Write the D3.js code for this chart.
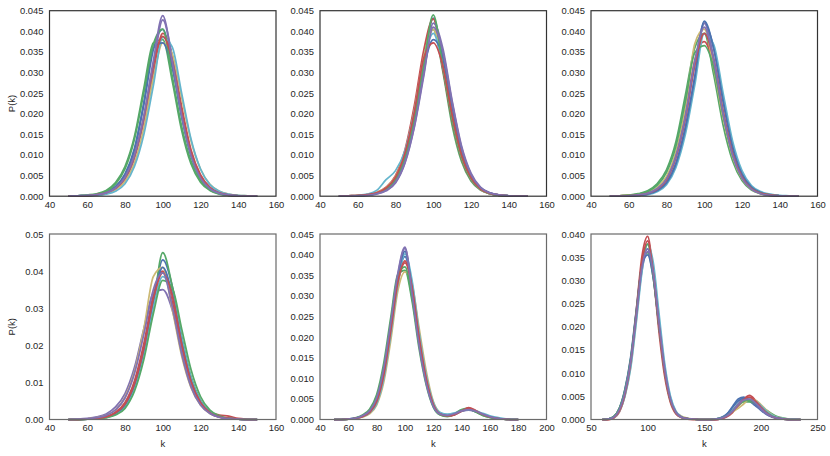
<!DOCTYPE html>
<html>
<head>
<meta charset="utf-8">
<script src="https://cdn.jsdelivr.net/npm/d3@7"></script>
<style>
  body { margin: 0; background: #fff; }
  text { font-family: "Liberation Sans", Arial, sans-serif; }
</style>
</head>
<body>
<svg id="chart"></svg>
<script>
const [W, H] = [830, 456];
const deep = ['#4C72B0', '#55A868', '#C44E52', '#8172B2', '#CCB974', '#64B5CD'];

// k grids (x positions the curves were read at)
const kTop = [50,55,60,65,70,75,80,85,90,95,100,105,110,115,120,125,130,135,140,145,150];
const kMid = [50,55,60,65,70,75,80,85,90,95,100,105,110,115,120,125,130,135,140,145,150,155,160,165,170,175,180];
const kWide = [60,65,70,75,80,85,90,95,100,105,110,115,120,125,130,135,140,145,150,155,
               160,165,170,175,180,185,190,195,200,205,210,215,220,225,230,235];

// P(k), in units of 1e-4
const curves1 = [
  [0,1,2,4,9,22,50,112,222,355,405,318,192,98,44,18,7,3,1,0,0],
  [0,1,3,6,14,33,72,145,262,372,380,280,160,78,34,14,5,2,1,0,0],
  [0,0,1,3,7,17,40,92,182,300,395,342,218,112,52,22,9,3,1,0,0],
  [0,0,1,3,7,18,42,96,188,315,428,340,205,104,46,19,7,2,1,0,0],
  [0,1,2,3,7,16,36,80,165,285,372,345,240,134,66,29,12,5,2,1,0],
  [0,0,1,2,5,12,30,72,150,268,385,362,250,138,66,28,12,5,2,1,0],
  [0,1,2,4,10,24,54,116,228,360,372,312,196,100,45,18,7,3,1,0,0],
  [0,1,2,5,12,30,66,138,252,368,405,292,170,85,38,15,6,2,1,0,0],
  [0,0,1,4,8,19,44,98,192,318,388,330,208,106,48,20,8,3,1,0,0],
  [0,1,2,4,8,20,46,100,196,328,438,328,196,98,44,18,7,3,1,0,0]
];
const curves2 = [
  [0,0,1,3,7,17,40,95,190,320,432,335,200,100,44,17,6,2,1,0,0],
  [0,0,1,3,8,19,45,104,205,340,405,305,172,84,37,15,6,2,1,0,0],
  [0,1,2,4,9,22,50,112,220,355,430,310,185,92,41,16,6,2,1,0,0],
  [0,0,1,2,5,13,32,80,168,292,420,360,232,122,56,22,8,3,1,0,0],
  [0,1,2,4,9,21,48,106,208,338,405,318,192,96,43,17,6,2,1,0,0],
  [0,1,2,5,14,40,62,110,205,330,395,318,195,98,44,18,7,3,1,0,0],
  [0,0,1,3,7,16,38,90,184,312,380,340,218,110,49,20,8,3,1,0,0],
  [0,0,1,3,7,17,40,94,188,318,440,318,190,96,43,17,6,2,1,0,0],
  [0,1,2,4,8,20,46,104,204,335,372,318,198,100,45,18,7,3,1,0,0],
  [0,0,1,2,6,14,34,82,170,298,410,352,228,118,53,21,8,3,1,0,0]
];
const curves3 = [
  [0,0,1,2,5,13,33,80,168,290,420,360,230,118,52,21,9,4,1,0,0],
  [0,1,3,6,13,30,64,132,245,360,395,295,172,86,38,15,6,2,1,0,0],
  [0,1,2,4,8,19,44,100,198,330,375,318,200,102,46,19,7,3,1,0,0],
  [0,0,1,3,7,17,40,94,188,320,420,335,202,100,44,17,6,2,1,0,0],
  [0,1,2,4,9,21,48,108,215,370,405,310,190,96,43,17,6,2,1,0,0],
  [0,0,1,2,4,11,28,70,150,270,395,368,250,134,62,26,11,5,2,1,0],
  [0,0,1,2,5,13,32,78,164,288,425,358,232,120,54,22,9,3,1,0,0],
  [0,1,2,5,11,26,58,122,230,348,365,312,196,100,45,18,7,3,1,0,0],
  [0,0,1,3,7,17,40,95,190,318,395,332,206,104,46,18,7,3,1,0,0],
  [0,0,1,3,7,18,42,98,195,328,410,330,200,100,44,17,6,2,1,0,0]
];
const curves4 = [
  [0,0,1,3,7,17,40,92,185,315,430,360,215,105,46,18,7,2,1,0,0],
  [0,0,1,2,5,14,34,82,172,305,450,360,225,115,52,21,8,3,1,0,0],
  [0,1,2,4,8,20,46,104,205,335,400,318,195,98,44,20,12,9,3,1,0],
  [0,1,3,7,15,34,70,140,245,340,350,296,185,94,42,17,6,2,1,0,0],
  [0,1,2,5,11,26,60,128,245,385,410,298,172,86,39,16,6,2,1,0,0],
  [0,0,1,3,6,15,36,86,178,305,385,340,220,112,50,20,8,3,1,0,0],
  [0,0,1,3,7,17,40,94,190,322,410,338,208,104,46,18,7,3,1,0,0],
  [0,0,1,2,5,12,30,76,162,285,375,355,245,134,62,25,10,3,1,0,0],
  [0,0,1,3,7,18,42,96,192,325,395,335,205,103,46,18,7,3,1,0,0],
  [0,1,2,5,11,26,58,124,230,350,395,305,178,88,39,16,6,2,1,0,0]
];
const curves5 = [
  [0,0,1,3,8,18,44,110,220,340,395,322,198,96,35,13,9,12,20,24,19,12,6,3,1,0,0],
  [0,0,1,4,11,25,60,136,248,352,362,288,172,84,30,11,8,14,24,27,19,10,5,2,1,0,0],
  [0,0,1,3,7,17,42,105,212,330,380,325,205,102,38,13,8,11,20,29,22,12,6,3,1,0,0],
  [0,0,1,3,8,18,45,112,225,350,415,315,190,94,34,13,10,14,20,23,19,13,7,3,1,0,0],
  [0,0,1,2,6,14,35,90,192,312,358,328,222,118,44,16,10,13,21,25,20,12,6,3,1,0,0],
  [0,0,1,3,7,16,38,98,205,328,402,338,212,108,42,17,13,16,22,24,21,15,9,5,2,1,0],
  [0,0,1,3,8,19,46,114,226,345,408,318,192,95,34,13,9,13,21,25,19,11,6,3,1,0,0],
  [0,0,1,3,9,21,52,122,235,348,370,296,185,92,33,11,7,13,23,26,18,10,5,2,1,0,0],
  [0,0,1,3,7,17,43,107,215,333,385,322,200,100,37,13,9,12,21,27,21,12,6,3,1,0,0],
  [0,0,1,3,9,21,52,124,236,355,418,306,180,88,32,13,10,14,21,24,20,13,7,3,1,0,0]
];
const curves6 = [
  [0,1,5,22,60,126,228,335,368,312,205,108,44,15,5,2,1,0,0,0, 1,4,12,28,44,48,40,30,20,11,5,2,1,0,0,0],
  [0,1,6,24,64,130,232,332,360,305,202,106,43,14,5,2,1,0,0,0, 1,3,8,18,30,38,38,34,28,20,12,6,3,1,0,0],
  [0,0,3,16,52,120,235,352,395,312,190,94,38,12,4,1,0,0,0,0, 0,2,6,15,30,44,52,42,26,13,6,3,1,0,0,0],
  [0,1,5,21,58,122,220,322,362,322,215,114,48,16,5,2,1,0,0,0, 0,2,7,18,34,44,42,33,22,12,6,3,1,0,0,0],
  [0,1,4,18,52,114,215,330,378,325,212,108,44,17,7,3,1,0,0,0, 1,3,8,16,24,34,44,42,32,20,10,4,2,1,0,0],
  [0,1,4,17,50,110,210,318,378,338,230,122,52,18,6,2,1,0,0,0, 1,3,9,20,34,42,44,40,30,18,9,4,2,1,1,0],
  [0,1,6,24,66,134,236,332,355,305,202,106,43,15,5,2,1,0,0,0, 1,4,11,26,40,46,42,34,24,13,6,3,1,0,0,0],
  [0,1,6,23,62,128,230,335,378,312,202,104,42,14,5,2,1,0,0,0, 1,3,8,18,32,40,42,36,26,15,7,3,1,0,0,0],
  [0,0,4,18,55,122,226,338,385,318,204,104,42,14,5,2,1,0,0,0, 0,2,7,17,32,43,48,40,27,14,6,3,1,0,0,0],
  [0,1,5,21,59,124,224,328,368,316,210,110,45,15,5,2,1,0,0,0, 1,3,8,18,32,42,44,36,24,13,6,3,1,0,0,0]
];

// tick labels
const xTicksA = [40, 60, 80, 100, 120, 140, 160];
const xTicksB = [40, 60, 80, 100, 120, 140, 160, 180, 200];
const xTicksC = [50, 100, 150, 200, 250];
const yTicks045 = [0, 0.005, 0.01, 0.015, 0.02, 0.025, 0.03, 0.035, 0.04, 0.045];
const yTicks05 = [0, 0.01, 0.02, 0.03, 0.04, 0.05];
const yTicks040 = [0, 0.005, 0.01, 0.015, 0.02, 0.025, 0.03, 0.035, 0.04];

const cols = [49.5, 320, 591];
const pw = 226.5, ph = 185.5;
const rows = [10.7, 234];

const panels = [
  {k: kTop, curves: curves1, xd: [40, 160], yd: [0, 0.045], xt: xTicksA, yt: yTicks045, fmt: '.3f', c: 0, r: 0},
  {k: kTop, curves: curves2, xd: [40, 160], yd: [0, 0.045], xt: xTicksA, yt: yTicks045, fmt: '.3f', c: 1, r: 0},
  {k: kTop, curves: curves3, xd: [40, 160], yd: [0, 0.045], xt: xTicksA, yt: yTicks045, fmt: '.3f', c: 2, r: 0},
  {k: kTop, curves: curves4, xd: [40, 160], yd: [0, 0.05], xt: xTicksA, yt: yTicks05, fmt: '.2f', c: 0, r: 1},
  {k: kMid, curves: curves5, xd: [40, 200], yd: [0, 0.045], xt: xTicksB, yt: yTicks045, fmt: '.3f', c: 1, r: 1},
  {k: kWide, curves: curves6, xd: [50, 250], yd: [0, 0.040], xt: xTicksC, yt: yTicks040, fmt: '.3f', c: 2, r: 1}
];

const svg = d3.select('#chart').attr('width', W).attr('height', H);
svg.append('rect').attr('width', W).attr('height', H).attr('fill', '#fff');

panels.forEach(p => {
  const x0 = cols[p.c], y0 = rows[p.r];
  const g = svg.append('g').attr('transform', `translate(${x0}, ${y0})`);
  const xScale = d3.scaleLinear().domain(p.xd).range([0, pw]);
  const yScale = d3.scaleLinear().domain(p.yd).range([ph, 0]);

  const line = d3.line()
    .x((d, i) => xScale(p.k[i]))
    .y(d => yScale(d / 1e4))
    .curve(d3.curveMonotoneX);

  g.selectAll('path.kde')
    .data(p.curves)
    .enter()
    .append('path')
      .attr('class', 'kde')
      .attr('d', line)
      .attr('fill', 'none')
      .attr('stroke', (d, i) => deep[i % deep.length])
      .attr('stroke-width', 1.75)
      .attr('stroke-linejoin', 'round');

  const xAxis = g.append('g')
    .attr('transform', `translate(0, ${ph})`)
    .call(d3.axisBottom(xScale).tickValues(p.xt).tickSize(0).tickPadding(5));
  const yAxis = g.append('g')
    .call(d3.axisLeft(yScale).tickValues(p.yt).tickFormat(d3.format(p.fmt)).tickSize(0).tickPadding(6));
  [xAxis, yAxis].forEach(a => {
    a.select('.domain').remove();
    a.selectAll('text')
      .style('font-family', '"Liberation Sans", Arial, sans-serif')
      .style('font-size', '9.4px')
      .attr('fill', '#262626');
  });

  g.append('rect')
    .attr('width', pw)
    .attr('height', ph)
    .attr('fill', 'none')
    .attr('stroke', p.r === 0 ? '#333' : '#6a6a6a')
    .attr('stroke-width', 1.2);

  if (p.c === 0) {
    svg.append('text')
      .attr('transform', `translate(11.5, ${y0 + ph / 2}) rotate(-90)`)
      .attr('text-anchor', 'middle')
      .attr('dy', '0.35em')
      .style('font-size', '9.5px')
      .attr('fill', '#262626')
      .text('P(k)');
  }
  if (p.r === 1) {
    svg.append('text')
      .attr('x', x0 + pw / 2)
      .attr('y', y0 + ph + 27)
      .attr('text-anchor', 'middle')
      .style('font-size', '9.5px')
      .attr('fill', '#262626')
      .text('k');
  }
});
</script>
</body>
</html>
